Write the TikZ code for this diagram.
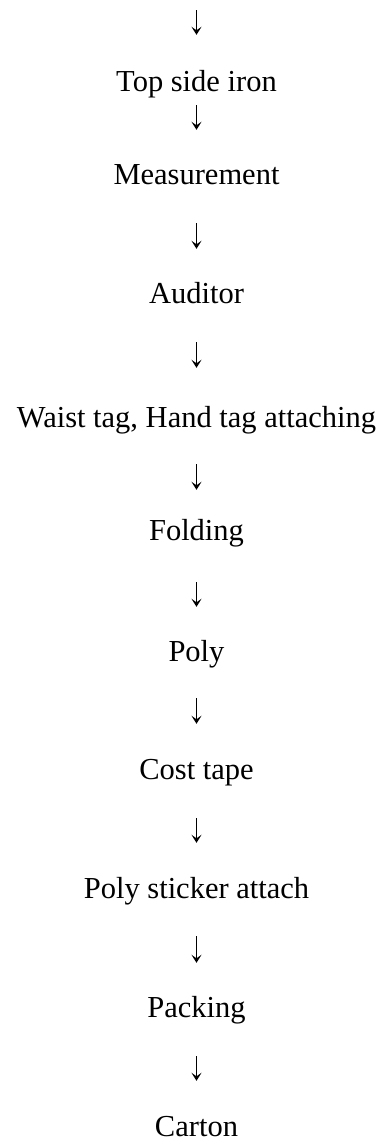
\documentclass[tikz,border=0pt]{standalone}
\usepackage{fontspec}
\setmainfont{Liberation Serif}
\usetikzlibrary{arrows.meta}
\begin{document}
\begin{tikzpicture}[x=1pt,y=1pt,
  stepnode/.style={anchor=base,inner sep=0pt,text height=20pt,text depth=0pt,
    font=\fontsize{30.5}{36}\selectfont},
  flow/.style 2 args={draw,line width=1.1pt,-{Stealth[length=8pt,width=10pt,inset=3.5pt]},
    shorten <=#1pt, shorten >=#2pt}]
\useasboundingbox (0,0) rectangle (385,-1144);
\coordinate (top) at (196.5,-10);
\node[stepnode] (t1) at (196.5,-91) {Top side iron};
\node[stepnode] (t2) at (196.5,-184) {Measurement};
\node[stepnode] (t3) at (196.5,-303) {Auditor};
\node[stepnode] (t4) at (196.5,-427) {Waist tag, Hand tag attaching};
\node[stepnode] (t5) at (196.5,-540) {Folding};
\node[stepnode] (t6) at (196.5,-661) {Poly};
\node[stepnode] (t7) at (196.5,-779) {Cost tape};
\node[stepnode] (t8) at (196.5,-898) {Poly sticker attach};
\node[stepnode] (t9) at (196.5,-1017) {Packing};
\node[stepnode] (t10) at (196.5,-1136) {Carton};
\path[flow={0}{36}] (top) -- (t1.north);
\path[flow={14}{34}] (t1.south) -- (t2.north);
\path[flow={39}{34}] (t2.south) -- (t3.north);
\path[flow={39}{39}] (t3.south) -- (t4.north);
\path[flow={37}{30}] (t4.south) -- (t5.north);
\path[flow={42}{34}] (t5.south) -- (t6.north);
\path[flow={37}{35}] (t6.south) -- (t7.north);
\path[flow={39}{35}] (t7.south) -- (t8.north);
\path[flow={38}{34}] (t8.south) -- (t9.north);
\path[flow={39}{35}] (t9.south) -- (t10.north);
\end{tikzpicture}
\end{document}
